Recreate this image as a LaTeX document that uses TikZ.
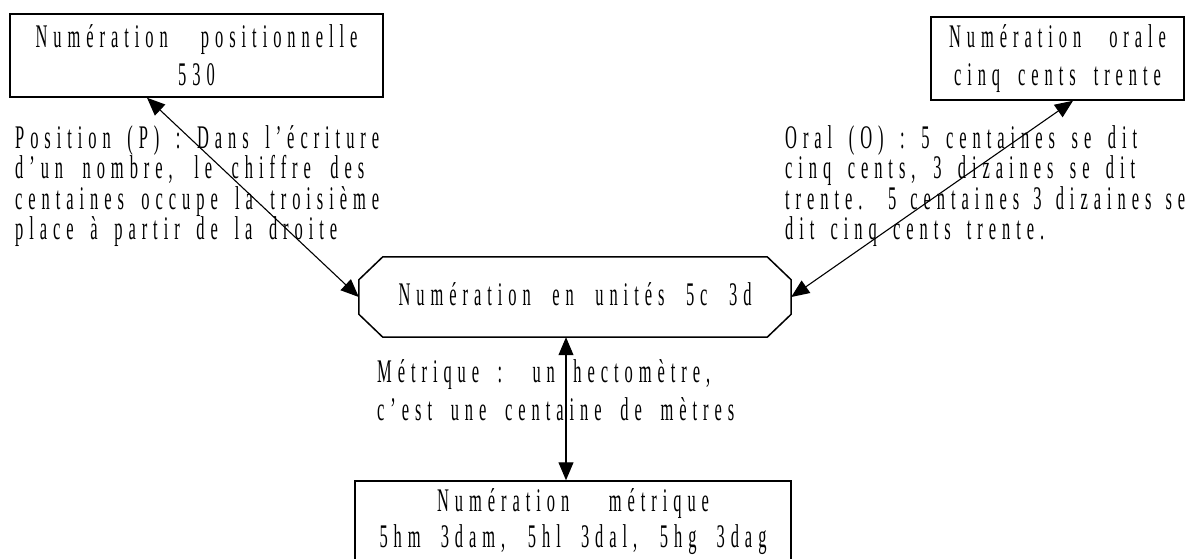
\documentclass[tikz,border=0pt]{standalone}
\usepackage{fontspec}
\newfontfamily\condfont[FakeStretch=0.5,LetterSpace=18]{Liberation Serif}
\usetikzlibrary{arrows.meta,calc}
\newcommand\jline[2]{\makebox[#1pt][s]{#2}}
\begin{document}
\begin{tikzpicture}[x=1pt,y=-1pt,
  every node/.style={font=\condfont\fontsize{33}{38}\selectfont, inner sep=0pt},
  box/.style={draw, line width=1.5pt, align=center},
  lbl/.style={align=left, anchor=north west},
  outline/.style={line width=1.5pt},
  biarrow/.style={{Triangle[length=18pt,width=15pt]}-{Triangle[length=18pt,width=15pt]}, line width=1.1pt}]
\useasboundingbox (0,0) rectangle (1186,558);
\clip (0,0) rectangle (1186,558);

\node[box, minimum width=373pt, minimum height=83pt] (pos) at (196.5,55.5) {\jline{322}{Numération positionnelle}\\530};
\node[box, minimum width=253pt, minimum height=83pt] (oral) at (1057.5,58.5) {\jline{217}{Numération orale}\\\jline{207}{cinq cents trente}};
\node[minimum width=432pt, minimum height=80pt, text height=23pt, text depth=7pt] (unit) at (575,297) {\jline{353}{Numération en unités 5c 3d}};
\draw[outline] ($(unit.north west)+(24,0)$) -- ($(unit.north east)+(-24,0)$) -- ($(unit.north east)+(0,23)$) -- ($(unit.south east)+(0,-23)$) -- ($(unit.south east)+(-24,0)$) -- ($(unit.south west)+(24,0)$) -- ($(unit.south west)+(0,-23)$) -- ($(unit.north west)+(0,23)$) -- cycle;
\node[box, minimum width=436pt, minimum height=82pt] (met) at (573,522) {\jline{272}{Numération métrique}\\[-2pt]\jline{387}{5hm 3dam, 5hl 3dal, 5hg 3dag}};

\node[lbl, font=\condfont\fontsize{33}{30.5}\selectfont] (lp) at (15,125) {\jline{364}{Position (P) : Dans l’écriture}\\\jline{349}{d’un nombre, le chiffre des}\\\jline{364}{centaines occupe la troisième}\\\jline{322}{place à partir de la droite}};
\node[lbl, font=\condfont\fontsize{33}{30.5}\selectfont] (lo) at (785,125) {\jline{352}{Oral (O) : 5 centaines se dit}\\\jline{350}{cinq cents, 3 dizaines se dit}\\\jline{400}{trente. 5 centaines 3 dizaines se}\\\jline{259}{dit cinq cents trente.}};
\node[lbl, font=\condfont\fontsize{33}{38}\selectfont] (lm) at (377,359) {\jline{333}{Métrique : un hectomètre,}\\\jline{357}{c’est une centaine de mètres}};

\draw[biarrow] ($(pos.south)+(-49.5,0)$) -- (unit.west);
\draw[biarrow] ($(oral.south)+(15.5,0)$) -- (unit.east);
\draw[biarrow] ($(unit.south)+(-9,0)$) -- ($(met.north)+(-7,0)$);
\end{tikzpicture}
\end{document}
